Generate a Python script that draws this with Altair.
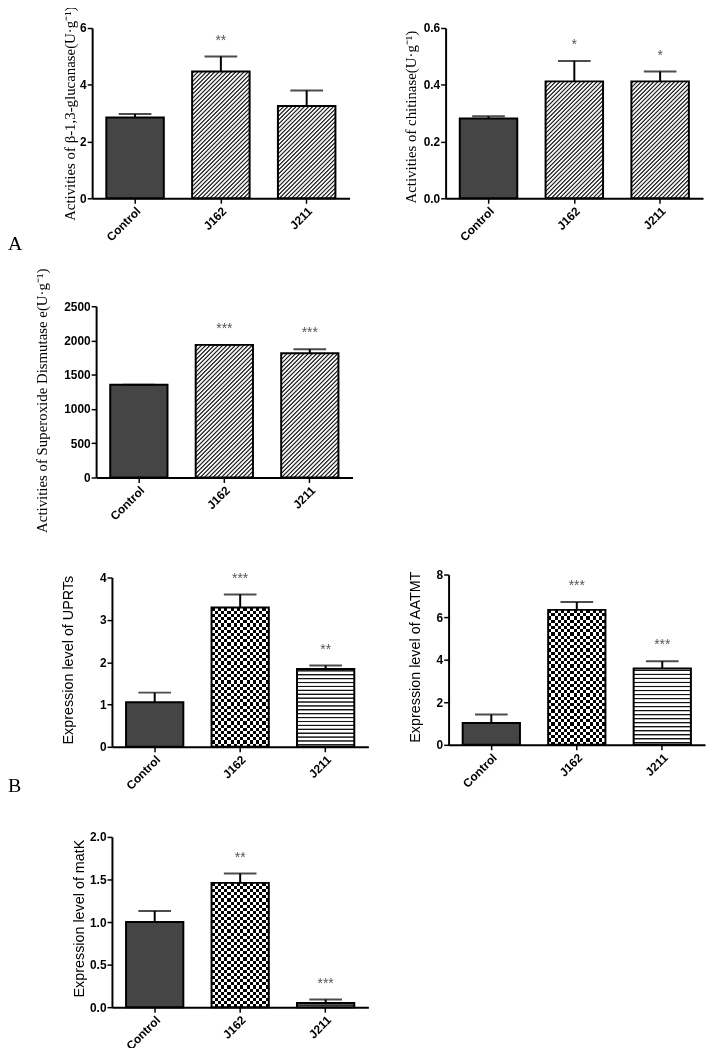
import math
import altair as alt
import pandas as pd

categories = ["Control", "J162", "J211"]

glucanase_mean = [2.85, 4.47, 3.25]
glucanase_err = [0.12, 0.53, 0.55]
glucanase_sig = ["", "**", ""]

chitinase_mean = [0.281, 0.412, 0.412]
chitinase_err = [0.008, 0.072, 0.035]
chitinase_sig = ["", "*", "*"]

sod_mean = [1355, 1936, 1814]
sod_err = [0, 0, 58]
sod_sig = ["", "***", "***"]

uprts_mean = [1.05, 3.29, 1.84]
uprts_err = [0.23, 0.31, 0.08]
uprts_sig = ["", "***", "**"]

aatmt_mean = [1.03, 6.34, 3.59]
aatmt_err = [0.39, 0.37, 0.34]
aatmt_sig = ["", "***", "***"]

matk_mean = [1.00, 1.46, 0.05]
matk_err = [0.13, 0.11, 0.04]
matk_sig = ["", "**", "***"]

glucanase_ticks = [0, 2, 4, 6]
chitinase_ticks = [0, 0.2, 0.4, 0.6]
sod_ticks = [0, 500, 1000, 1500, 2000, 2500]
uprts_ticks = [0, 1, 2, 3, 4]
aatmt_ticks = [0, 2, 4, 6, 8]
matk_ticks = [0, 0.5, 1.0, 1.5, 2.0]

WIDTH, HEIGHT = 705, 1040
SERIF = "Liberation Serif"
SANS = "Liberation Sans"
STYLE_A = ["dark", "hatch", "hatch"]
STYLE_B = ["dark", "checker", "hlines"]
PAD_IN, PAD_OUT = 0.33, 0.165


def hard_stripes(n, dark_frac, dark, light, x2, y2):
    n = max(1, int(n))
    stops = []
    for k in range(n):
        a, b, c = k / n, (k + dark_frac) / n, (k + 1) / n
        stops += [{"offset": round(a, 5), "color": dark}, {"offset": round(b, 5), "color": dark},
                  {"offset": round(b, 5), "color": light}, {"offset": round(c, 5), "color": light}]
    return {"gradient": "linear", "x1": 0, "y1": 0, "x2": x2, "y2": y2, "stops": stops}


def soft_stripes(n, ramp, plateau, dark, light, x2, y2):
    n = max(1, int(n))
    stops = []
    for k in range(n):
        s = (1 - 2 * ramp - plateau) / 2
        pts = [(0, light), (s, light), (s + ramp, dark), (s + ramp + plateau, dark),
               (s + 2 * ramp + plateau, light), (1, light)]
        for o, c in pts:
            stops.append({"offset": round((k + o) / n, 5), "color": c})
    return {"gradient": "linear", "x1": 0, "y1": 0, "x2": x2, "y2": y2, "stops": stops}


def diag_gradient(w, h, period, ramp, plateau, dark, light):
    lam = h * (w + h) / (w * w + h * h)
    n = round((w + h) / (period * math.sqrt(2)))
    return soft_stripes(n, ramp, plateau, dark, light, round(lam * w / h, 5), round(lam, 5))


def panel(mean, err, sig, ticks, fmt, title, tfont, tsize, styles, box, tpos):
    x0, x1, ytop, ybot = box
    df = pd.DataFrame({
        "cat": categories,
        "mean": mean,
        "top": [m + e for m, e in zip(mean, err)],
        "sig": sig,
    })
    xs = alt.Scale(domain=categories, range=[x0, x1], paddingInner=PAD_IN, paddingOuter=PAD_OUT)
    ys = alt.Scale(domain=[ticks[0], ticks[-1]], range=[ybot, ytop], nice=False, zero=True)
    xaxis = alt.Axis(orient="bottom", offset=ybot - HEIGHT, labelAngle=315, labelAlign="right",
                     labelBaseline="top", labelFont=SANS, labelFontWeight="bold", labelFontSize=12,
                     labelColor="black", labelPadding=2, tickSize=5, tickWidth=1.5, tickColor="black",
                     domainColor="black", domainWidth=2, grid=False, title=None)
    yaxis = alt.Axis(orient="left", offset=-x0, values=ticks, format=fmt, labelFont=SANS,
                     labelFontWeight="bold", labelFontSize=12, labelColor="black", labelPadding=1,
                     tickSize=5, tickWidth=1.5, tickColor="black", domainColor="black", domainWidth=2,
                     grid=False, title=title, titleFont=tfont, titleFontSize=tsize,
                     titleFontWeight="normal", titleColor="black", titleAngle=270,
                     titleBaseline="bottom", titleAlign="center", titleX=tpos[0], titleY=tpos[1])
    base = alt.Chart(df)
    Xc = alt.X("cat:N", sort=categories)
    frame = base.mark_bar(fillOpacity=0, strokeOpacity=0).encode(
        x=alt.X("cat:N", scale=xs, axis=xaxis, sort=categories),
        y=alt.Y("mean:Q", scale=ys, axis=yaxis),
    )
    layers = [frame]
    step = (x1 - x0) / (len(categories) - PAD_IN + 2 * PAD_OUT)
    bw = step * (1 - PAD_IN)
    for cat, m, kind in zip(categories, mean, styles):
        h = max(1.0, m / ticks[-1] * (ybot - ytop))
        b = base.transform_filter(alt.datum.cat == cat)
        enc = dict(x=Xc, y="mean:Q")
        if kind == "dark":
            layers.append(b.mark_bar(fill="#454545", stroke="black", strokeWidth=2).encode(**enc))
        elif kind == "hatch":
            g = diag_gradient(bw, h, 3.0, 0.22, 0.18, "#262626", "#f4f4f4")
            layers.append(b.mark_bar(fill=g, stroke="black", strokeWidth=2).encode(**enc))
        elif kind == "hlines":
            g = soft_stripes(round(h / 4.0), 0.18, 0.16, "#111111", "#ffffff", 0, 1)
            layers.append(b.mark_bar(fill=g, stroke="black", strokeWidth=2).encode(**enc))
        elif kind == "checker":
            gv = hard_stripes(round(bw / 6.4), 0.5, "#000000", "#ffffff", 1, 0)
            gh = hard_stripes(round(h / 6.4), 0.5, "#000000", "#ffffff", 0, 1)
            layers.append(b.mark_bar(fill=gv, strokeOpacity=0).encode(**enc))
            layers.append(b.mark_bar(fill=gh, strokeOpacity=0, blend="difference").encode(**enc))
            layers.append(b.mark_bar(fillOpacity=0, stroke="black", strokeWidth=2).encode(**enc))
    rule = base.mark_rule(strokeWidth=2, color="black").encode(x=Xc, y="mean:Q", y2="top:Q")
    cap = base.mark_tick(orient="horizontal", size=33, thickness=2, color="black").encode(
        x=Xc, y="top:Q")
    stars = base.transform_filter("datum.sig != ''").mark_text(
        font=SANS, fontSize=14, color="#555555", baseline="middle", dy=-16).encode(
        x=Xc, y="top:Q", text="sig:N")
    layers += [rule, cap, stars]
    return alt.layer(*layers)


p1 = panel(glucanase_mean, glucanase_err, glucanase_sig, glucanase_ticks, "d",
           "Activities of β-1,3-glucanase(U·g⁻¹)", SERIF, 15, STYLE_A,
           (85, 345, 15, 187), (-15, 101))
p2 = panel(chitinase_mean, chitinase_err, chitinase_sig, chitinase_ticks, ".1f",
           "Activities of chitinase(U·g⁻¹)", SERIF, 15, STYLE_A,
           (442, 702, 15, 187), (-27, 104.5))
p3 = panel(sod_mean, sod_err, sod_sig, sod_ticks, "d",
           "Activities of Superoxide Dismutase e(U·g⁻¹)", SERIF, 15, STYLE_A,
           (89, 348, 296, 469), (-47, 391))
p4 = panel(uprts_mean, uprts_err, uprts_sig, uprts_ticks, "d",
           "Expression level of UPRTs", SANS, 14.5, STYLE_B,
           (105, 364, 570, 741), (-37, 653))
p5 = panel(aatmt_mean, aatmt_err, aatmt_sig, aatmt_ticks, "d",
           "Expression level of AATMT", SANS, 14.5, STYLE_B,
           (445, 704, 567, 739), (-26, 650))
p6 = panel(matk_mean, matk_err, matk_sig, matk_ticks, ".1f",
           "Expression level of matK", SANS, 14.5, STYLE_B,
           (105, 364, 832, 1004), (-26, 914))

lab_a = alt.Chart(pd.DataFrame({"t": ["A"]})).mark_text(
    font=SERIF, fontSize=20, color="black", align="left", baseline="alphabetic").encode(
    x=alt.value(0), y=alt.value(239), text="t:N")
lab_b = alt.Chart(pd.DataFrame({"t": ["B"]})).mark_text(
    font=SERIF, fontSize=20, color="black", align="left", baseline="alphabetic").encode(
    x=alt.value(0), y=alt.value(787), text="t:N")

chart = alt.layer(p1, p2, p3, p4, p5, p6, lab_a, lab_b).resolve_scale(
    x="independent", y="independent"
).properties(
    width=WIDTH, height=HEIGHT,
    autosize=alt.AutoSizeParams(type="none"), padding=0,
).configure(background="white", view=alt.ViewConfig(stroke=None))

chart.save("out.html", embed_options={"renderer": "svg", "actions": False})
